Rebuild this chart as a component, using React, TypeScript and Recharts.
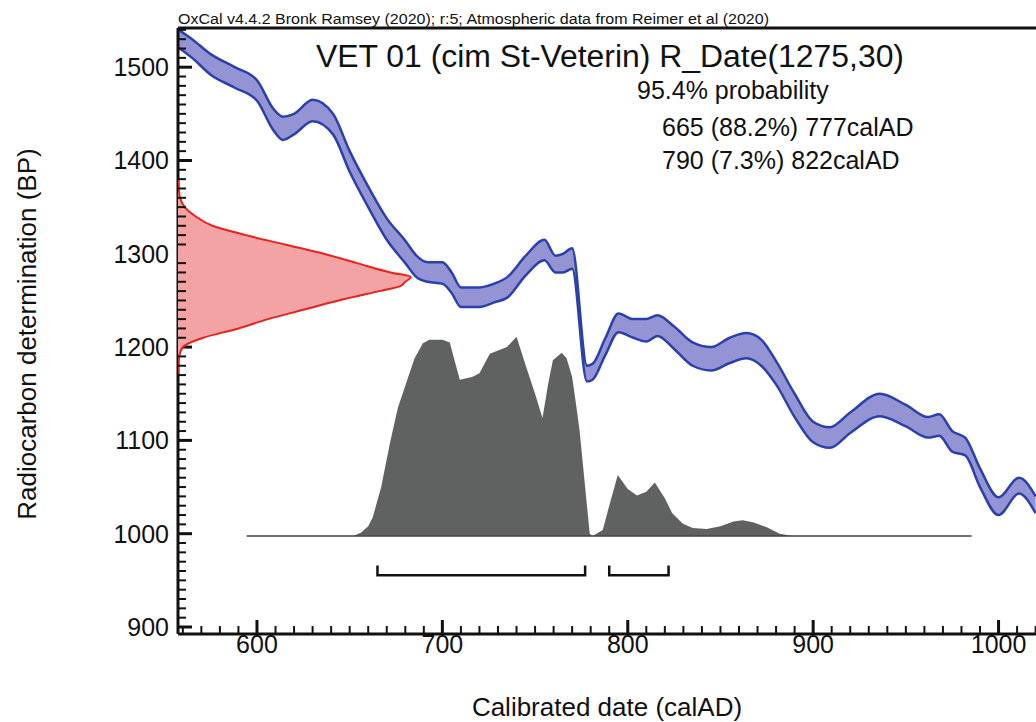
import React from 'react';
import { ComposedChart, Area, Line, Scatter, XAxis, YAxis, ReferenceLine, Curve } from 'recharts';

// calibration curve band (1 sigma), BP
const calYears = [557, 565, 575, 588, 600, 609, 614, 620, 630, 641, 650, 660, 670, 680, 686, 692, 700, 705, 710, 720, 728, 735, 745, 755, 761, 765, 770, 778, 781, 788, 795, 803, 810, 816, 825, 835, 845, 855, 864, 872, 880, 890, 900, 909, 920, 936, 950, 962, 968, 975, 982, 990, 1000, 1011, 1020];
const calUpper = [1541, 1530, 1514, 1500, 1486, 1455, 1447, 1450, 1465, 1450, 1410, 1372, 1338, 1314, 1298, 1291, 1291, 1280, 1264, 1264, 1268, 1275, 1298, 1315, 1298, 1300, 1306, 1180, 1182, 1210, 1236, 1230, 1230, 1234, 1222, 1205, 1200, 1210, 1215, 1208, 1185, 1150, 1120, 1114, 1130, 1150, 1138, 1125, 1128, 1110, 1103, 1070, 1039, 1060, 1040];
const calLower = [1522, 1510, 1492, 1478, 1464, 1432, 1422, 1428, 1442, 1428, 1388, 1350, 1315, 1290, 1275, 1270, 1268, 1258, 1243, 1243, 1248, 1253, 1277, 1293, 1280, 1280, 1284, 1163, 1165, 1192, 1216, 1210, 1206, 1212, 1198, 1180, 1175, 1183, 1188, 1180, 1160, 1125, 1098, 1092, 1108, 1126, 1115, 1103, 1105, 1088, 1084, 1050, 1020, 1043, 1022];

// calibrated posterior (grey), drawn above the baseline
const POST_BASE = 997.6;
const postYears = [651.8, 656, 660, 662.5, 667, 671.7, 676, 680.9, 685, 689.5, 693, 700, 704, 706, 709.4, 716, 720, 725.6, 734.8, 740, 745, 750, 754, 757, 759.6, 764.4, 767, 770, 772, 774, 777, 779.5, 781, 786.5, 790, 794.6, 800, 805, 810, 814.6, 820, 824, 829.6, 835, 842.6, 850, 857, 862, 868, 875, 882, 889];
const postBP = [997.6, 1001, 1008, 1018, 1050, 1097, 1135, 1164, 1188, 1204, 1208, 1208, 1205, 1190, 1165, 1168, 1172, 1193, 1200, 1211, 1180, 1150, 1124, 1160, 1186, 1194, 1188, 1168, 1140, 1111, 1050, 1000, 997.6, 1004, 1030, 1063, 1048, 1041, 1045, 1055, 1038, 1022, 1011, 1006, 1005, 1008, 1013, 1014.5, 1012, 1007, 1000, 997.6];
const baseYears = [594.4, 985.5];

// radiocarbon measurement (red), extent to the right of the axis
const likeBP = [1380, 1370, 1360, 1350, 1340, 1330, 1320, 1310, 1300, 1290, 1280, 1275, 1270, 1265, 1260, 1250, 1240, 1230, 1220, 1210, 1200, 1190, 1180, 1170];
const likeYears = [557.3, 557.8, 558.5, 561, 567, 576, 594, 615, 636, 654, 672, 683, 680, 677, 666, 644, 625, 606, 590, 571, 560, 558, 557.5, 557.2];

// 95.4% ranges
const range1 = [665, 777];
const range2 = [790, 822];
const BRACKET_LOW = 955.5;
const BRACKET_HIGH = 966;

const xMajor = [600, 700, 800, 900, 1000];
const yMajor = [900, 1000, 1100, 1200, 1300, 1400, 1500];
const xTicks = Array.from({ length: 47 }, (_, i) => 560 + i * 10);
const yTicks = Array.from({ length: 65 }, (_, i) => 900 + i * 10);

const X_DOMAIN: [number, number] = [557.4, 1020.2];
const Y_DOMAIN: [number, number] = [892.5, 1542];

const W = 1036;
const H = 722;
const FONT = '"Liberation Sans", Arial, sans-serif';
const INK = '#111';
const MAJOR_LEN = 14;

const calData = calYears.map((year, i) => ({ year, range: [calLower[i], calUpper[i]] }));
const postData = postYears.map((year, i) => ({ year, bp: postBP[i] }));
const baseData = baseYears.map((year) => ({ year, bp: POST_BASE }));
const likeData = likeBP.map((bp, i) => ({ bp, year: likeYears[i] }));
const bracket = (r: number[]) => [
  { year: r[0], bp: BRACKET_HIGH },
  { year: r[0], bp: BRACKET_LOW },
  { year: r[1], bp: BRACKET_LOW },
  { year: r[1], bp: BRACKET_HIGH },
];

// minor tick marks point into the plot: anchor points on the axis lines
const xTickPts = xTicks.filter((v) => !xMajor.includes(v)).map((v) => ({ year: v, bp: Y_DOMAIN[0], len: 8, dir: 'up' }));
const yTickPts = yTicks.filter((v) => !yMajor.includes(v)).map((v) => ({ year: X_DOMAIN[0], bp: v, len: 8, dir: 'right' }));

function TickStub(props: any) {
  const { cx, cy } = props;
  const p = props.payload ?? props;
  if (cx == null || cy == null) return <g />;
  const len = p.len ?? 8;
  const d = p.dir === 'up' ? `M${cx},${cy}V${cy - len}` : `M${cx},${cy}H${cx + len}`;
  return <path d={d} stroke={INK} strokeWidth={2} fill="none" />;
}

const NoDot = () => <g />;

// the measurement lies sideways against the y axis: fill from the axis out to the curve
function LikelihoodShape(props: any) {
  const pts = (props.points || []).filter((p: any) => p.x != null && p.y != null);
  if (!pts.length) return <g />;
  const left = Math.min(...pts.map((p: any) => p.x));
  return (
    <g>
      <Curve points={pts} type="monotoneY" layout="vertical" baseLine={left} fill="#f4a3a4" stroke="none" />
      <Curve points={pts} type="monotoneY" layout="vertical" fill="none" stroke="#e8221e" strokeWidth={2} />
    </g>
  );
}

function XLabel(props: any) {
  const { x, y, payload } = props;
  return (
    <text x={x} y={y + MAJOR_LEN + 1} textAnchor="middle" dominantBaseline="hanging" fontSize={25} fontFamily={FONT} fill={INK}>
      {payload.value}
    </text>
  );
}

function YLabel(props: any) {
  const { x, y, payload } = props;
  return (
    <text x={x - MAJOR_LEN - 9} y={y} textAnchor="end" dominantBaseline="central" fontSize={25} fontFamily={FONT} fill={INK}>
      {payload.value}
    </text>
  );
}

export default function App() {
  return (
    <div style={{ position: 'absolute', left: 0, top: 0, width: W, height: H, background: '#fff', overflow: 'hidden' }}>
      <ComposedChart id="calChart" width={W} height={H} margin={{ top: 28, right: 0, bottom: 0, left: 0 }}>
        <XAxis
          type="number"
          dataKey="year"
          domain={X_DOMAIN}
          allowDataOverflow
          ticks={xMajor}
          interval={0}
          tickSize={-MAJOR_LEN}
          tickMargin={0}
          tickLine={{ stroke: INK, strokeWidth: 3 }}
          tick={XLabel}
          height={88}
          axisLine={{ stroke: INK, strokeWidth: 3 }}
          label={{ value: 'Calibrated date (calAD)', position: 'insideBottom', offset: 6, fontSize: 26, fontFamily: FONT, fill: INK }}
        />
        <YAxis
          type="number"
          dataKey="bp"
          domain={Y_DOMAIN}
          allowDataOverflow
          ticks={yMajor}
          interval={0}
          tickSize={-MAJOR_LEN}
          tickMargin={0}
          tickLine={{ stroke: INK, strokeWidth: 3 }}
          tick={YLabel}
          width={178}
          axisLine={{ stroke: INK, strokeWidth: 3 }}
          label={{
            content: () => (
              <text transform="translate(27,334) rotate(-90)" textAnchor="middle" dominantBaseline="central" fontSize={26} fontFamily={FONT} fill={INK}>
                Radiocarbon determination (BP)
              </text>
            ),
          }}
        />
        <ReferenceLine y={Y_DOMAIN[1]} stroke={INK} strokeWidth={3} />
        <Scatter data={likeData} dataKey="bp" shape={NoDot} line={LikelihoodShape} isAnimationActive={false} />
        <Area
          data={calData}
          dataKey="range"
          type="monotone"
          stroke="#2b40aa"
          strokeWidth={2.5}
          fill="#9494d5"
          fillOpacity={1}
          isAnimationActive={false}
        />
        <Area
          data={postData}
          dataKey="bp"
          type="linear"
          baseValue={POST_BASE}
          stroke="none"
          fill="#606262"
          fillOpacity={1}
          isAnimationActive={false}
        />
        <Line data={baseData} dataKey="bp" stroke="#4a4444" strokeWidth={1.5} dot={false} isAnimationActive={false} />
        <Line data={bracket(range1)} dataKey="bp" type="linear" stroke={INK} strokeWidth={2.5} dot={false} isAnimationActive={false} />
        <Line data={bracket(range2)} dataKey="bp" type="linear" stroke={INK} strokeWidth={2.5} dot={false} isAnimationActive={false} />
        <Scatter data={xTickPts} dataKey="bp" shape={TickStub} isAnimationActive={false} />
        <Scatter data={yTickPts} dataKey="bp" shape={TickStub} isAnimationActive={false} />
      </ComposedChart>
      <svg width={W} height={H} style={{ position: 'absolute', left: 0, top: 0, pointerEvents: 'none' }} fontFamily={FONT} fill={INK}>
        <text x={178} y={24} fontSize={14} textLength={591} lengthAdjust="spacingAndGlyphs">
          OxCal v4.4.2 Bronk Ramsey (2020); r:5; Atmospheric data from Reimer et al (2020)
        </text>
        <text x={316} y={67} fontSize={31} textLength={588} lengthAdjust="spacingAndGlyphs">
          VET 01 (cim St-Veterin) R_Date(1275,30)
        </text>
        <text x={637} y={99} fontSize={25}>95.4% probability</text>
        <text x={662} y={136} fontSize={25}>665 (88.2%) 777calAD</text>
        <text x={662} y={169} fontSize={25}>790 (7.3%) 822calAD</text>
      </svg>
    </div>
  );
}
